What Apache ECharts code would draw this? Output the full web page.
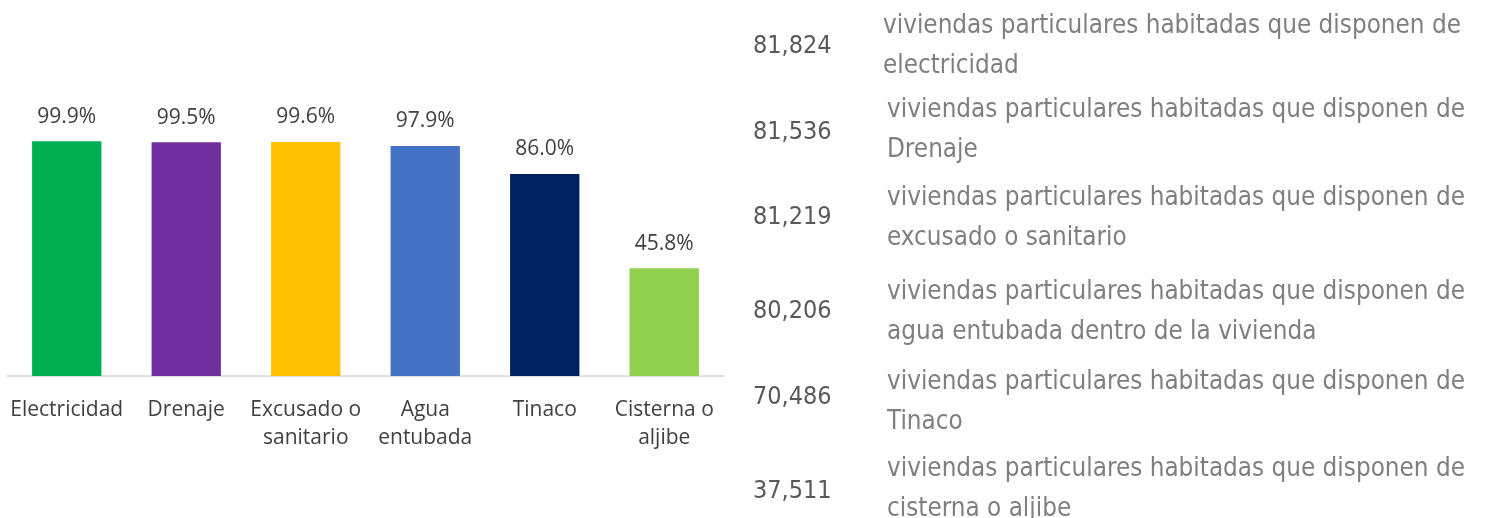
<!DOCTYPE html>
<html>
<head>
<meta charset="utf-8">
<script src="https://cdn.jsdelivr.net/npm/echarts@6/dist/echarts.min.js"></script>
<style>
html, body { margin: 0; padding: 0; background: #fff; }
#chart-container { width: 1486px; height: 518px; }
</style>
</head>
<body>
<div id="chart-container"></div>
<script>
var categories = ['Electricidad', 'Drenaje', 'Excusado o\nsanitario', 'Agua\nentubada', 'Tinaco', 'Cisterna o\naljibe'];
var percentages = [99.9, 99.5, 99.6, 97.9, 86.0, 45.8];
var barColors = ['#00B050', '#7030A0', '#FFC000', '#4472C4', '#002060', '#92D050'];
var totals = ['81,824', '81,536', '81,219', '80,206', '70,486', '37,511'];
var descriptions = [
    'viviendas particulares habitadas que disponen de\nelectricidad',
    'viviendas particulares habitadas que disponen de\nDrenaje',
    'viviendas particulares habitadas que disponen de\nexcusado o sanitario',
    'viviendas particulares habitadas que disponen de\nagua entubada dentro de la vivienda',
    'viviendas particulares habitadas que disponen de\nTinaco',
    'viviendas particulares habitadas que disponen de\ncisterna o aljibe'
];

var dom = document.getElementById('chart-container');
var myChart = echarts.init(dom, null, { renderer: 'canvas' });

// layout of the text block on the right
var rightFont = '"DejaVu Sans Condensed", sans-serif';
var numY = [45, 131, 216, 310, 396, 490];
var descY = [24, 108, 196, 290, 380, 467];
var graphics = [];
for (var i = 0; i < totals.length; i++) {
    graphics.push({
        type: 'text',
        left: 753,
        top: numY[i] - 11,
        style: { text: totals[i], font: '25px ' + rightFont, fill: '#595959' }
    });
    graphics.push({
        type: 'text',
        left: i === 0 ? 883 : 887,
        top: descY[i] - 18,
        style: { text: descriptions[i], font: '25.8px ' + rightFont, fill: '#7F7F7F', lineHeight: 40 }
    });
}

var option = {
    animation: false,
    grid: { left: 7, right: 762, top: 141, bottom: 142 },
    xAxis: {
        type: 'category',
        data: categories,
        axisLine: { lineStyle: { color: '#D9D9D9', width: 1.5 } },
        axisTick: { show: false },
        axisLabel: {
            color: '#404040',
            fontSize: 21,
            fontFamily: 'Open Sans',
            lineHeight: 28,
            margin: 20,
            interval: 0
        }
    },
    yAxis: {
        type: 'value',
        min: 0,
        max: 100,
        show: false,
        splitLine: { show: false }
    },
    series: [{
        type: 'bar',
        barWidth: '58%',
        data: percentages.map(function (v, i) {
            return { value: v, itemStyle: { color: barColors[i] } };
        }),
        label: {
            show: true,
            position: 'top',
            distance: 14,
            color: '#404040',
            fontSize: 21,
            fontFamily: 'Open Sans',
            formatter: function (p) { return p.value.toFixed(1) + '%'; }
        }
    }],
    graphic: graphics
};

myChart.setOption(option);
window.addEventListener('resize', myChart.resize);
</script>
</body>
</html>
